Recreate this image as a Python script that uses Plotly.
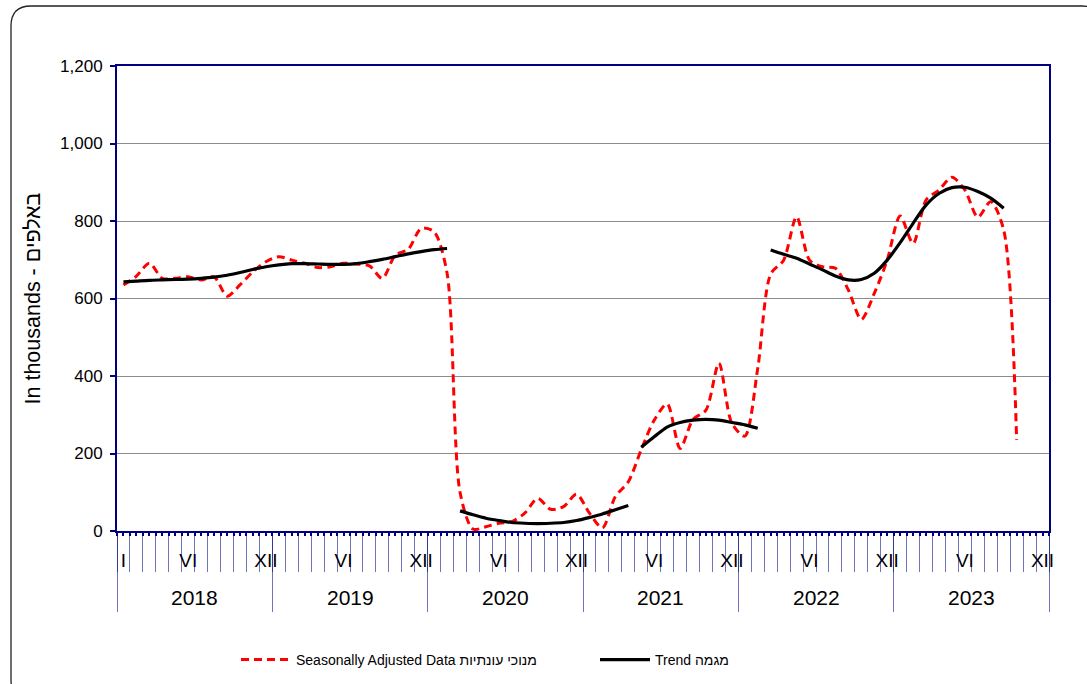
import plotly.graph_objects as go

# ---- data (monthly, Jan 2018 = 1) ----
years = [2018, 2019, 2020, 2021, 2022, 2023]
month_labels = ["I", "VI", "XII"]

sa_months = list(range(1, 71))
sa_values = [
    635, 658, 691, 652, 652, 656, 648, 656, 606, 635, 669, 695,   # 2018
    708, 699, 691, 680, 682, 691, 689, 684, 652, 712, 727, 781,   # 2019
    772, 665, 100, 5, 11, 20, 24, 46, 84, 56, 63, 95,             # 2020
    46, 8, 89, 127, 210, 286, 328, 213, 288, 312, 433, 278,       # 2021
    245, 420, 663, 699, 811, 699, 682, 678, 622, 546, 613, 699,   # 2022
    813, 742, 854, 880, 913, 880, 810, 850, 777, 235,             # 2023
]

trend_seg1 = [643, 645, 647, 648, 649, 650, 652, 655, 660, 667, 675, 682,
              687, 690, 690, 689, 688, 688, 690, 695, 701, 708, 715, 721,
              726, 729]                                   # Jan 2018 - Feb 2020
trend_seg2 = [52, 42, 33, 27, 22, 20, 19, 20, 22, 27, 35, 44, 55, 66]  # Mar 2020 - Apr 2021
trend_seg3 = [216, 243, 268, 280, 286, 288, 286, 280, 274, 265]      # May 2021 - Feb 2022
trend_seg4 = [725, 714, 704, 689, 674, 658, 648, 649, 665, 699, 744,
              794, 841, 871, 886, 887, 876, 859, 833]                 # Mar 2022 - Sep 2023

trend_x, trend_y = [], []
start = 1
for seg in [trend_seg1, trend_seg2, trend_seg3, trend_seg4]:
    trend_x += list(range(start, start + len(seg))) + [None]
    trend_y += seg + [None]
    start += len(seg)

# ---- geometry helpers (pixels -> paper) ----
W, H = 1087, 684
L, R, T, B = 117, 38, 66, 153
PW, PH = W - L - R, H - T - B
def px(x): return (x - L) / PW
def py(y): return (H - B - y) / PH

NAVY = "#000080"
LIGHTNAVY = "rgba(0,0,128,0.55)"
FONT = "Arial, Liberation Sans, sans-serif"

fig = go.Figure()
fig.add_trace(go.Scatter(
    x=sa_months, y=sa_values, mode="lines",
    name="Seasonally Adjusted Data מנוכי עונתיות",
    line=dict(color="#FF0000", width=3, dash="8px,5px", shape="spline", smoothing=0.8),
))
fig.add_trace(go.Scatter(
    x=trend_x, y=trend_y, mode="lines", connectgaps=False,
    name="Trend מגמה",
    line=dict(color="#000000", width=3.2, shape="spline", smoothing=0.8),
))

xr = [0.5, 72.5]
tickvals = [1]
ticktext = ["I"]
for k in range(len(years)):
    tickvals += [12 * k + 6, 12 * k + 12]
    ticktext += ["VI", "XII"]

month_bounds = [i + 0.5 for i in range(0, 73)]
year_bounds = [12 * k + 0.5 for k in range(0, 7)]
half_months = [i * 0.5 + 0.5 for i in range(0, 145)]

fig.update_layout(
    template="none",
    width=W, height=H,
    margin=dict(l=L, r=R, t=T, b=B, autoexpand=False),
    paper_bgcolor="white", plot_bgcolor="white",
    font=dict(family=FONT, color="black", size=17),
    showlegend=True,
    hovermode=False,
    legend=dict(
        orientation="h", x=px(236), xanchor="left", y=py(660), yanchor="middle",
        font=dict(family="Liberation Sans Narrow, Arial Narrow, Arial, sans-serif", size=14),
        itemwidth=50, entrywidth=294, entrywidthmode="pixels",
        bgcolor="rgba(0,0,0,0)", borderwidth=0,
    ),
    xaxis=dict(
        range=xr, tickmode="array", tickvals=tickvals, ticktext=ticktext,
        ticks="", showgrid=False, zeroline=False, automargin=False,
        showline=True, linecolor=NAVY, linewidth=2, mirror=True,
        tickfont=dict(size=19), ticklabelstandoff=11,
    ),
    xaxis2=dict(
        overlaying="x", anchor="y", side="bottom", range=xr, automargin=False,
        tickmode="array", tickvals=month_bounds, ticks="outside", ticklen=40,
        tickcolor=LIGHTNAVY, tickwidth=1, showticklabels=False,
        showgrid=False, zeroline=False, showline=False,
    ),
    xaxis3=dict(
        overlaying="x", anchor="y", side="bottom", range=xr, automargin=False,
        tickmode="array", tickvals=year_bounds, ticks="outside", ticklen=80,
        tickcolor=LIGHTNAVY, tickwidth=1.3, showticklabels=False,
        showgrid=False, zeroline=False, showline=False,
    ),
    xaxis4=dict(
        overlaying="x", anchor="y", side="bottom", range=xr, automargin=False,
        tickmode="array", tickvals=half_months, ticks="outside", ticklen=4,
        tickcolor=NAVY, tickwidth=1.5, showticklabels=False,
        showgrid=False, zeroline=False, showline=False,
    ),
    yaxis=dict(
        range=[0, 1200], tickmode="linear", tick0=0, dtick=200, tickformat=",",
        ticks="outside", ticklen=5, tickcolor=NAVY, tickwidth=1.5, automargin=False,
        showgrid=True, gridcolor="#8c8c8c", gridwidth=1, zeroline=False,
        showline=True, linecolor=NAVY, linewidth=2, mirror=True,
        tickfont=dict(size=17), ticklabelstandoff=4,
        title=dict(text="In thousands - באלפים", font=dict(size=21.5), standoff=14),
    ),
)

# dummy traces to activate the overlay axes
for ax in ["x2", "x3", "x4"]:
    fig.add_trace(go.Scatter(x=[None], y=[None], xaxis=ax, yaxis="y",
                             showlegend=False, hoverinfo="skip"))

# year labels
for k, yr in enumerate(years):
    fig.add_annotation(x=12 * k + 6.5, xref="x", y=py(597), yref="paper",
                       text=str(yr), showarrow=False,
                       font=dict(size=21, family=FONT, color="black"),
                       xanchor="center", yanchor="middle")

# rounded outer frame
x0, y0, x1, y1 = px(11), py(6), px(1102), py(700)
rx, ry = 20 / PW, 20 / PH
path = (f"M{x0},{y0 - ry} L{x0},{y1 + ry} Q{x0},{y1} {x0 + rx},{y1} "
        f"L{x1 - rx},{y1} Q{x1},{y1} {x1},{y1 + ry} L{x1},{y0 - ry} "
        f"Q{x1},{y0} {x1 - rx},{y0} L{x0 + rx},{y0} Q{x0},{y0} {x0},{y0 - ry} Z")
fig.add_shape(type="path", path=path, xref="paper", yref="paper",
              line=dict(color="#222222", width=1.3), fillcolor="rgba(0,0,0,0)",
              layer="below")

fig.write_html("out.html", config={"displayModeBar": False},
               post_script="document.body.style.margin='0';document.body.style.overflow='hidden';")
